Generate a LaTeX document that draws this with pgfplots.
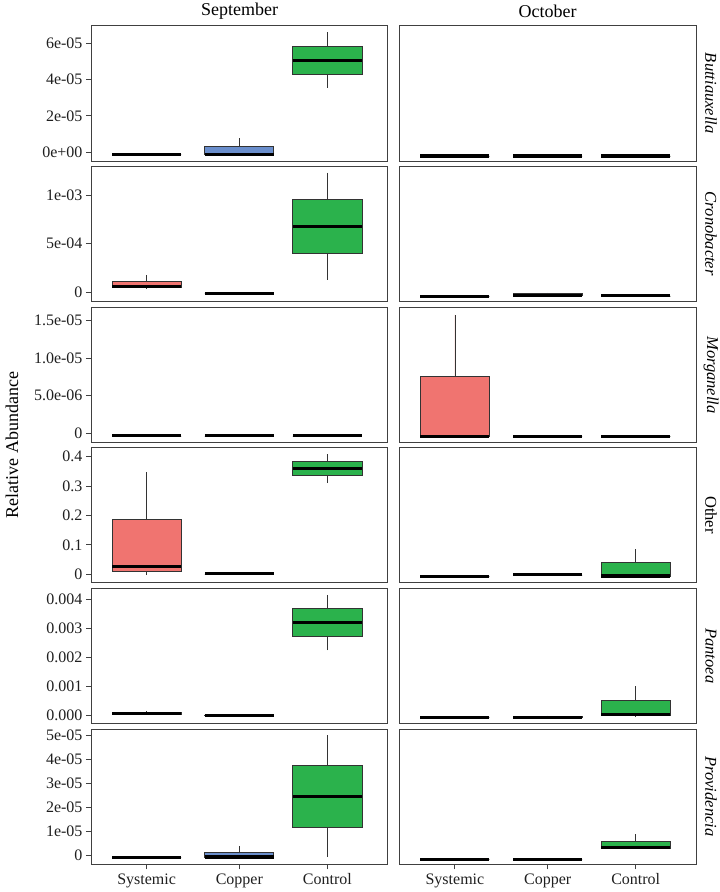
\documentclass[border=0pt]{standalone}
\usepackage{pgfplots}
\pgfplotsset{compat=1.18}
\usepgfplotslibrary{statistics}
\usepackage{fontspec}
\setmainfont{Liberation Serif}
\definecolor{csys}{RGB}{240,116,112}
\definecolor{ccop}{RGB}{106,142,204}
\definecolor{ccon}{RGB}{43,178,76}
\newcommand{\fs}{\fontsize{16}{18}\selectfont}
\newcommand{\ft}{\fontsize{18}{20}\selectfont}
\newcommand{\fr}{\fontsize{16.5}{18}\selectfont}
% box: position, lower whisker, lower quartile, median, upper quartile, upper whisker, colour
% values per row are given in the unit noted in the row comment
\newcommand{\bx}[7]{\addplot[draw=black!80, line width=0.8pt, fill=#7,
  boxplot prepared={draw direction=y, draw position=#1, lower whisker=#2, lower quartile=#3, median=#4,
  upper quartile=#5, upper whisker=#6, box extend=0.745, whisker extend=0}] coordinates {};}
\pgfplotsset{
  panel/.style={scale only axis, width=296.7pt, height=135.3pt, xmin=0.4, xmax=3.6,
    anchor=north west,
    axis line style={black!75, line width=0.9pt},
    tick style={black!75, line width=0.9pt},
    tick align=outside, major tick length=5pt,
    xtick=\empty, ytick pos=left, xtick pos=bottom,
    ticklabel style={font=\fs, text=black!88},
    boxplot/draw direction=y,
    boxplot/every median/.style={draw=black, line width=3.1pt}},
  bottomx/.style={xtick={1,2,2.95}, xticklabels={Systemic,Copper,Control},
    xticklabel style={yshift=-1pt}},
}
\begin{document}
\begin{tikzpicture}
\path[use as bounding box] (0,0) rectangle (720pt,-892pt);
% ---------- Row 1: Buttiauxella (unit 1e-05) ----------
\begin{axis}[panel, at={(91pt,-25.7pt)}, ymin=-0.477, ymax=6.95,
  ytick={0,2,4,6}, yticklabels={0e+00,2e-05,4e-05,6e-05}]
\bx{1}{-0.13}{-0.13}{-0.13}{-0.13}{-0.13}{csys}
\bx{2}{-0.13}{-0.13}{-0.13}{0.33}{0.77}{ccop}
\bx{2.95}{3.55}{4.28}{5.05}{5.82}{6.59}{ccon}
\end{axis}
\begin{axis}[panel, at={(399.3pt,-25.7pt)}, ymin=-0.477, ymax=6.95, ytick=\empty]
\bx{1}{-0.2}{-0.2}{-0.2}{-0.2}{-0.2}{csys}
\bx{2}{-0.2}{-0.2}{-0.2}{-0.2}{-0.2}{ccop}
\bx{2.95}{-0.2}{-0.2}{-0.2}{-0.2}{-0.2}{ccon}
\end{axis}
% ---------- Row 2: Cronobacter (unit 1e-03) ----------
\begin{axis}[panel, at={(91pt,-166pt)}, ymin=-0.0924, ymax=1.30,
  ytick={0,0.5,1}, yticklabels={0,5e-04,1e-03}]
\bx{1}{0.035}{0.048}{0.058}{0.113}{0.179}{csys}
\bx{2}{-0.013}{-0.013}{-0.013}{-0.013}{-0.013}{ccop}
\bx{2.95}{0.130}{0.400}{0.678}{0.955}{1.232}{ccon}
\end{axis}
\begin{axis}[panel, at={(399.3pt,-166pt)}, ymin=-0.0924, ymax=1.30, ytick=\empty]
\bx{1}{-0.041}{-0.041}{-0.041}{-0.041}{-0.041}{csys}
\bx{2}{-0.036}{-0.036}{-0.034}{-0.016}{-0.003}{ccop}
\bx{2.95}{-0.037}{-0.037}{-0.037}{-0.037}{-0.037}{ccon}
\end{axis}
% ---------- Row 3: Morganella (unit 1e-05) ----------
\begin{axis}[panel, at={(91pt,-307.3pt)}, ymin=-0.125, ymax=1.678,
  ytick={0,0.5,1,1.5}, yticklabels={0,5.0e-06,1.0e-05,1.5e-05}]
\bx{1}{-0.036}{-0.036}{-0.036}{-0.036}{-0.036}{csys}
\bx{2}{-0.036}{-0.036}{-0.036}{-0.036}{-0.036}{ccop}
\bx{2.95}{-0.036}{-0.036}{-0.036}{-0.036}{-0.036}{ccon}
\end{axis}
\begin{axis}[panel, at={(399.3pt,-307.3pt)}, ymin=-0.125, ymax=1.678, ytick=\empty]
\bx{1}{-0.045}{-0.045}{-0.045}{0.763}{1.58}{csys}
\bx{2}{-0.045}{-0.045}{-0.045}{-0.045}{-0.045}{ccop}
\bx{2.95}{-0.045}{-0.045}{-0.045}{-0.045}{-0.045}{ccon}
\end{axis}
% ---------- Row 4: Other (unit 1) ----------
\begin{axis}[panel, at={(91pt,-447.3pt)}, ymin=-0.0286, ymax=0.432,
  ytick={0,0.1,0.2,0.3,0.4}, yticklabels={0,0.1,0.2,0.3,0.4}]
\bx{1}{-0.003}{0.0102}{0.027}{0.188}{0.348}{csys}
\bx{2}{0.001}{0.001}{0.001}{0.001}{0.001}{ccop}
\bx{2.95}{0.31}{0.335}{0.359}{0.384}{0.408}{ccon}
\end{axis}
\begin{axis}[panel, at={(399.3pt,-447.3pt)}, ymin=-0.0286, ymax=0.432, ytick=\empty]
\bx{1}{-0.008}{-0.008}{-0.008}{-0.008}{-0.008}{csys}
\bx{2}{-0.0024}{-0.0024}{-0.0024}{-0.0024}{-0.0024}{ccop}
\bx{2.95}{-0.006}{-0.006}{-0.006}{0.0395}{0.085}{ccon}
\end{axis}
% ---------- Row 5: Pantoea (unit 1e-03) ----------
\begin{axis}[panel, at={(91pt,-588.3pt)}, ymin=-0.298, ymax=4.374,
  ytick={0,1,2,3,4}, yticklabels={0.000,0.001,0.002,0.003,0.004}]
\bx{1}{0}{0.03}{0.06}{0.10}{0.128}{csys}
\bx{2}{-0.02}{-0.02}{-0.01}{0}{0.01}{ccop}
\bx{2.95}{2.23}{2.70}{3.20}{3.67}{4.15}{ccon}
\end{axis}
\begin{axis}[panel, at={(399.3pt,-588.3pt)}, ymin=-0.298, ymax=4.374, ytick=\empty]
\bx{1}{-0.08}{-0.08}{-0.08}{-0.08}{-0.08}{csys}
\bx{2}{-0.09}{-0.09}{-0.08}{-0.06}{-0.02}{ccop}
\bx{2.95}{-0.07}{-0.01}{0.03}{0.52}{0.99}{ccon}
\end{axis}
% ---------- Row 6: Providencia (unit 1e-05) ----------
\begin{axis}[panel, bottomx, at={(91pt,-729pt)}, ymin=-0.377, ymax=5.28,
  ytick={0,1,2,3,4,5}, yticklabels={0,1e-05,2e-05,3e-05,4e-05,5e-05}]
\bx{1}{-0.1}{-0.1}{-0.1}{-0.1}{-0.1}{csys}
\bx{2}{-0.1}{-0.1}{-0.07}{0.14}{0.39}{ccop}
\bx{2.95}{-0.08}{1.17}{2.46}{3.74}{5.02}{ccon}
\end{axis}
\begin{axis}[panel, bottomx, at={(399.3pt,-729pt)}, ymin=-0.377, ymax=5.28, ytick=\empty]
\bx{1}{-0.17}{-0.17}{-0.17}{-0.17}{-0.17}{csys}
\bx{2}{-0.17}{-0.17}{-0.17}{-0.17}{-0.17}{ccop}
\bx{2.95}{0.28}{0.28}{0.31}{0.59}{0.87}{ccon}
\end{axis}
% ---------- strips and titles ----------
\node[font=\ft] at (239.7pt,-11pt) {September};
\node[font=\ft] at (547.7pt,-11pt) {October};
\node[font=\ft, rotate=90] at (12pt,-445pt) {Relative Abundance};
\node[font=\fr\itshape, rotate=-90] at (711pt,-93.3pt) {Buttiauxella};
\node[font=\fr\itshape, rotate=-90] at (711pt,-233.8pt) {Cronobacter};
\node[font=\fr\itshape, rotate=-90] at (711pt,-375pt) {Morganella};
\node[font=\fr, rotate=-90] at (711pt,-515pt) {Other};
\node[font=\fr\itshape, rotate=-90] at (711pt,-655.8pt) {Pantoea};
\node[font=\fr\itshape, rotate=-90] at (711pt,-796.5pt) {Providencia};
\end{tikzpicture}
\end{document}
